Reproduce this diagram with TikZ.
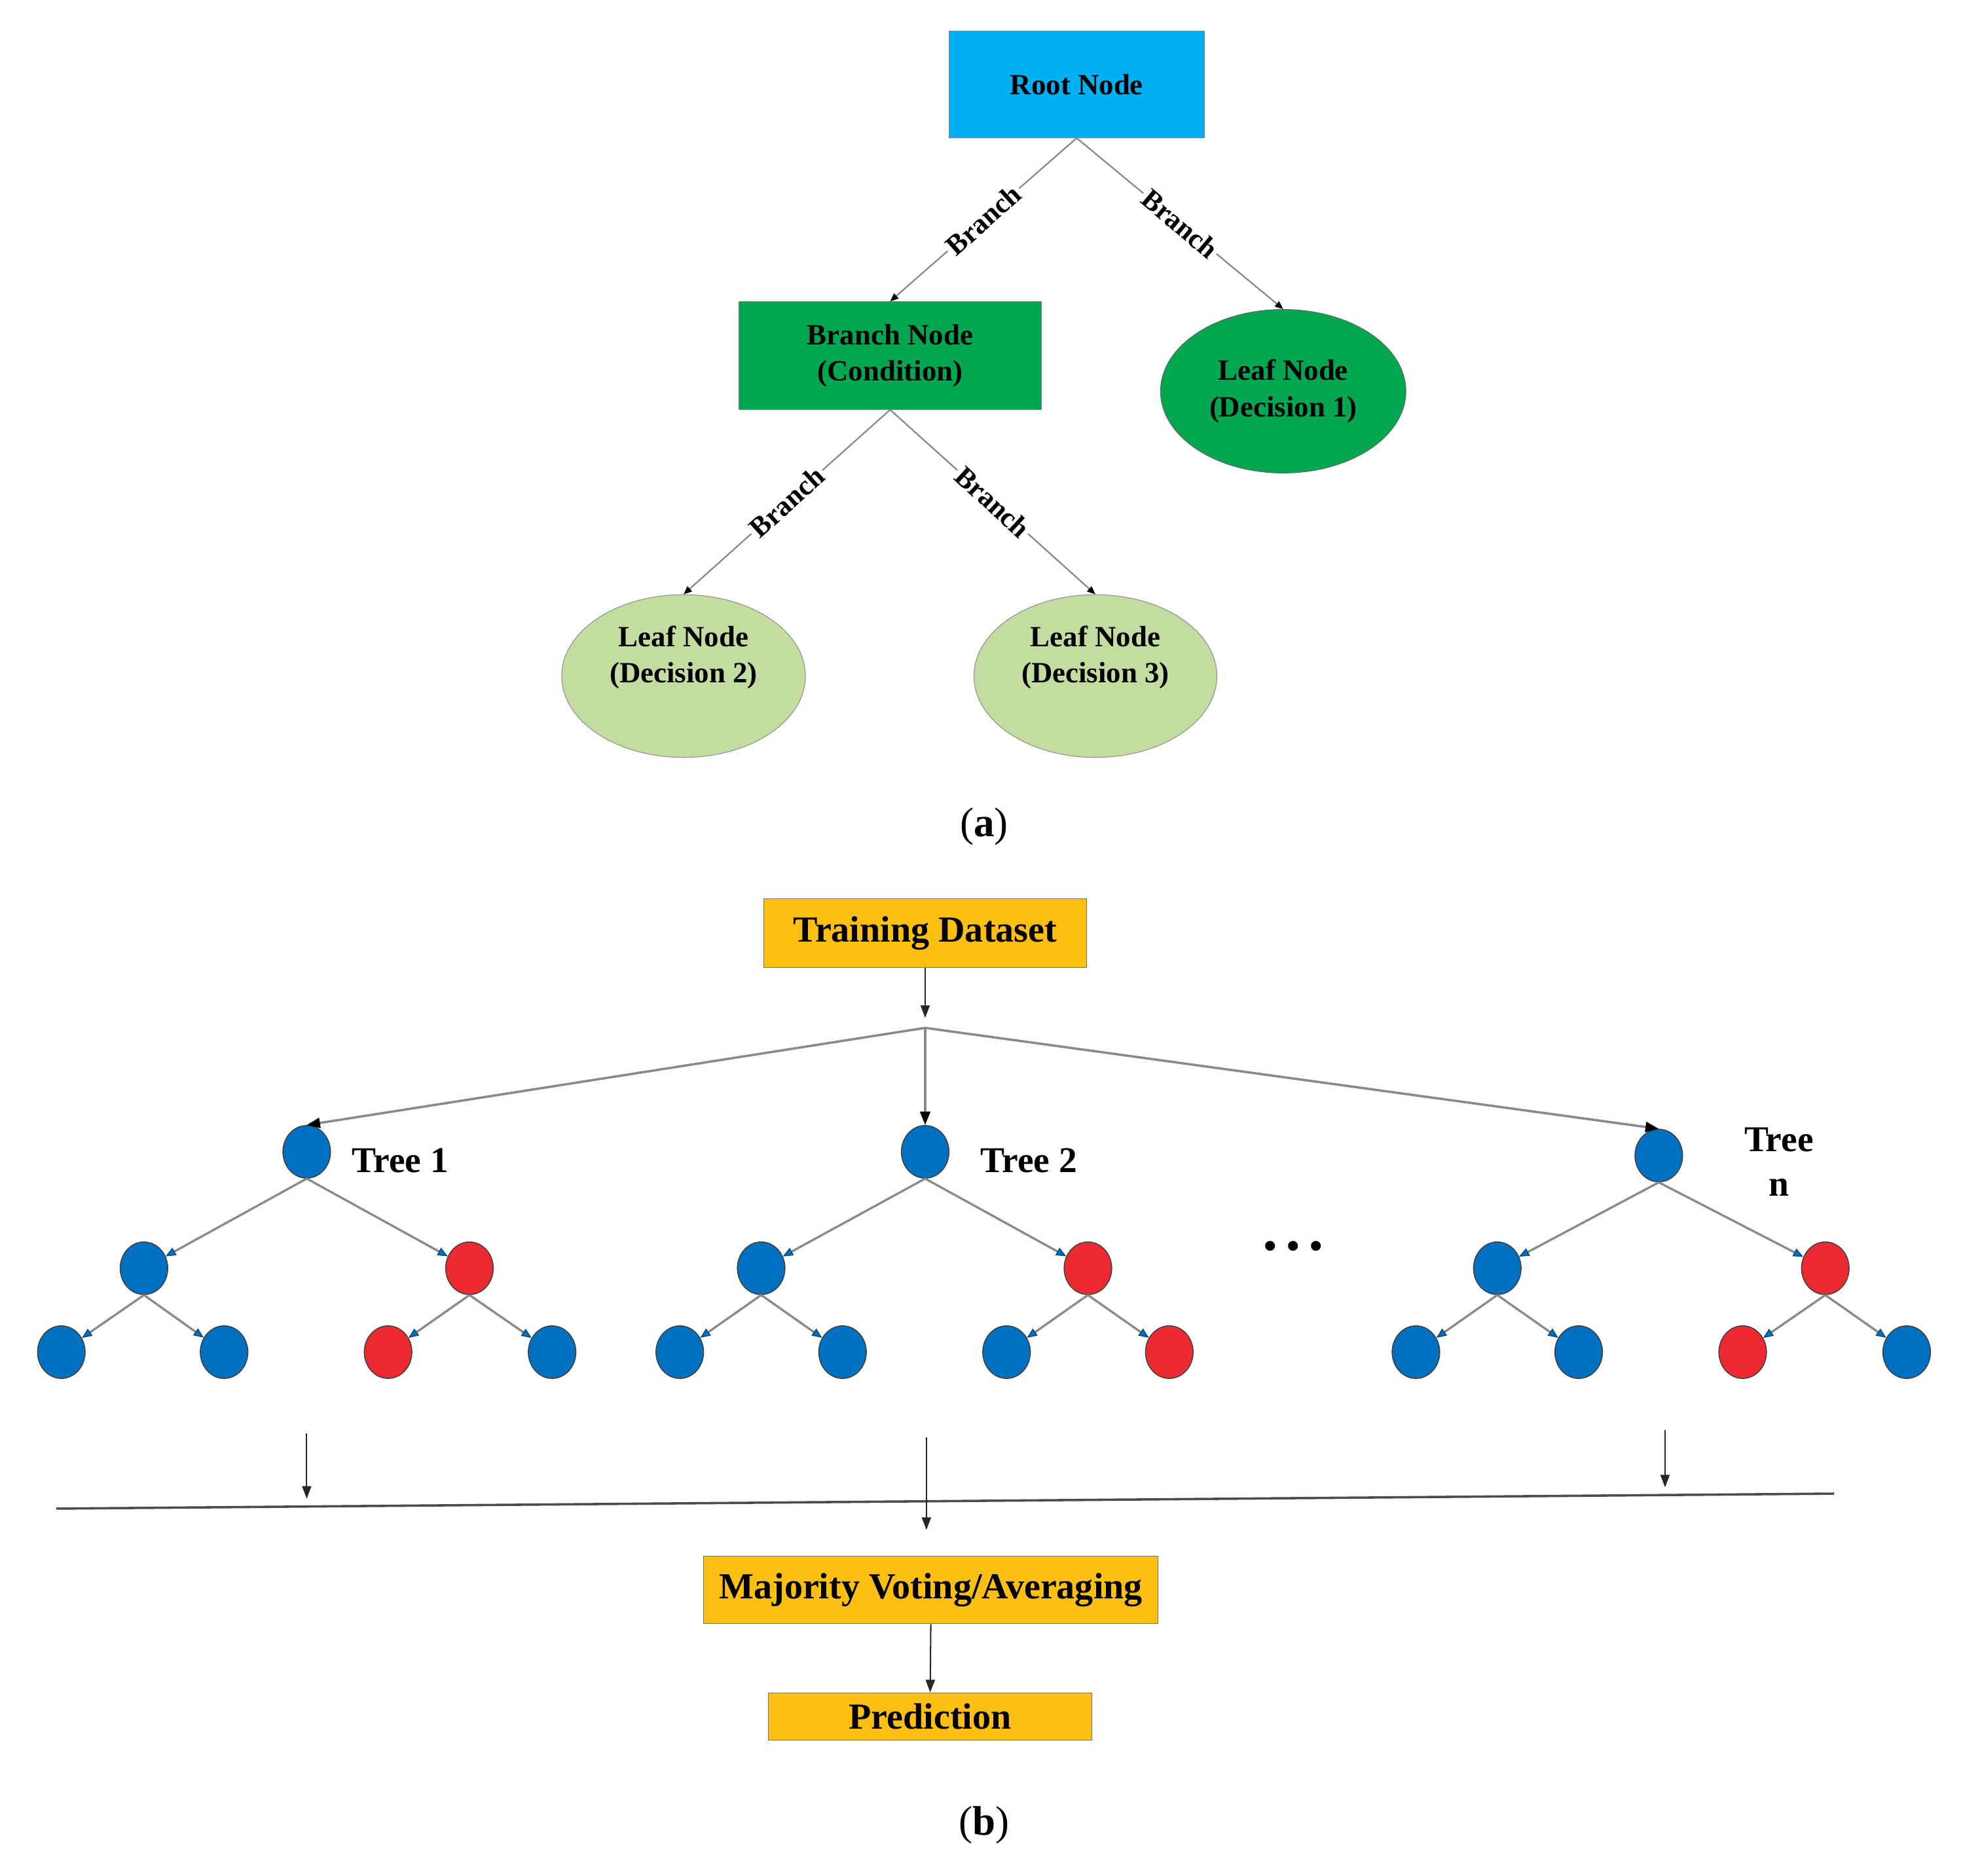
\documentclass[tikz,border=0pt]{standalone}
\usepackage{fontspec}
\setmainfont{Liberation Serif}
\usetikzlibrary{arrows.meta,shapes.geometric}

\definecolor{rootblue}{HTML}{00B0F0}
\definecolor{branchgreen}{HTML}{00A650}
\definecolor{leafgreen}{HTML}{C3DCA0}
\definecolor{boxgold}{HTML}{FDBF12}
\definecolor{nodeblue}{HTML}{0070C0}
\definecolor{nodered}{HTML}{ED2A32}
\definecolor{edgegray}{HTML}{8A8A8A}

\tikzset{
  fa/.style={font=\fontsize{17.6}{21.75}\selectfont\bfseries, align=center},
  rootbox/.style={fa, draw=gray, fill=rootblue, minimum width=153pt, minimum height=63.75pt, inner sep=0pt},
  branchbox/.style={fa, draw=gray, fill=branchgreen, minimum width=181.5pt, minimum height=64.5pt, inner sep=0pt},
  leafdark/.style={fa, ellipse, draw=black!60, fill=branchgreen, minimum width=147pt, minimum height=98pt, inner sep=0pt},
  leaflight/.style={ellipse, draw=black!45, fill=leafgreen, minimum width=146pt, minimum height=97.5pt, inner sep=0pt},
  leaftxt/.style={fa, inner sep=0pt},
  brlabel/.style={midway, fill=white, text=black, inner sep=1.5pt, font=\fontsize{17}{17}\selectfont\bfseries},
  edgea/.style={edgegray, line width=0.9pt, -{Triangle[length=5pt,width=4pt,color=black]}},
  goldbox/.style={draw=black!55, fill=boxgold, font=\fontsize{22}{26}\selectfont\bfseries, minimum width=193.5pt, inner sep=0pt},
  bnode/.style={ellipse, draw=black!75, line width=0.6pt, fill=nodeblue, minimum width=28.5pt, minimum height=31.5pt, inner sep=0pt},
  rnode/.style={bnode, fill=nodered},
  treeedge/.style={edgegray, line width=1.3pt, -{Triangle[length=6pt,width=5pt,line width=0.5pt,color=nodeblue!60!black,fill=nodeblue]}},
  splitarrow/.style={edgegray, line width=1.4pt, -{Triangle[length=8pt,width=6pt,color=black]}},
  blackarrow/.style={black!85, line width=0.8pt, -{Triangle[length=7.5pt,width=5.5pt]}},
  treelabel/.style={font=\fontsize{21.75}{27}\selectfont\bfseries, inner sep=0pt},
  caption/.style={font=\fontsize{24.75}{30}\selectfont}
}

\begin{document}
\begin{tikzpicture}[x=0.75pt,y=0.75pt,yscale=-1,xscale=1]
        \useasboundingbox (0,0) rectangle (1568,1498.4);
        %Shape: Rectangle
        \node[rootbox] (root) at (860,67.5) {Root Node};
        \node[branchbox] (branch) at (711,284) {Branch Node\\(Condition)};
        %Shape: Ellipse
        \node[leafdark] (leaf1) at (1025,312.5) {Leaf Node\\(Decision 1)};
        \node[leaflight] (leaf2) at (546,540) {};
        \node[leaftxt] (leaf2txt) at (546,525) {Leaf Node\\(Decision 2)};
        \node[leaflight, minimum width=145.5pt] (leaf3) at (875,540) {};
        \node[leaftxt] (leaf3txt) at (875,525) {Leaf Node\\(Decision 3)};
        %Straight Lines
        \draw[edgea] (root.south) -- node[brlabel, rotate=41.7] {Branch} (branch.north);
        \draw[edgea] (root.south) -- node[brlabel, rotate=-40.2] {Branch} (leaf1.north);
        \draw[edgea] (branch.south) -- node[brlabel, rotate=42] {Branch} (leaf2.north);
        \draw[edgea] (branch.south) -- node[brlabel, rotate=-42.6] {Branch} (leaf3.north);
        \node[caption] (capa) at (786,660) {(\textbf{a})};

        %Shape: Rectangle
        \node[goldbox, minimum height=41.25pt] (td) at (739,745.5) {Training Dataset};
        \coordinate (splitin) at (739,813);
        \coordinate (split) at (739,821);
        \draw[blackarrow] (td.south) -- (splitin);
        %Tree 1
        \node[bnode] (t1) at (245,920) {};
        \node[bnode] (t1l) at (115,1013) {};
        \node[rnode] (t1r) at (375,1013) {};
        \node[bnode] (t1ll) at (49,1080) {};
        \node[bnode] (t1lr) at (179,1080) {};
        \node[rnode] (t1rl) at (310,1080) {};
        \node[bnode] (t1rr) at (441,1080) {};
        \node[treelabel, anchor=west] (lab1) at (281,927) {Tree 1};
        %Tree 2
        \node[bnode] (t2) at (739,920) {};
        \node[bnode] (t2l) at (608,1013) {};
        \node[rnode] (t2r) at (869,1013) {};
        \node[bnode] (t2ll) at (543,1080) {};
        \node[bnode] (t2lr) at (673,1080) {};
        \node[bnode] (t2rl) at (804,1080) {};
        \node[rnode] (t2rr) at (934,1080) {};
        \node[treelabel, anchor=west] (lab2) at (783,927) {Tree 2};
        %Tree n
        \node[bnode] (tn) at (1325,923) {};
        \node[bnode] (tnl) at (1196,1013) {};
        \node[rnode] (tnr) at (1458,1013) {};
        \node[bnode] (tnll) at (1131,1080) {};
        \node[bnode] (tnlr) at (1261,1080) {};
        \node[rnode] (tnrl) at (1392,1080) {};
        \node[bnode] (tnrr) at (1523,1080) {};
        \node[treelabel, align=center] (labn) at (1421,928) {Tree\\n};
        \node[treelabel] (dots) at (1033,998) {•\hspace{6pt}•\hspace{6pt}•};
        %Straight Lines
        \draw[splitarrow] (split) -- (t1.north);
        \draw[splitarrow] (split) -- (t2);
        \draw[splitarrow] (split) -- (tn.north);
        \draw[treeedge] (t1.south) -- (t1l);
        \draw[treeedge] (t1.south) -- (t1r);
        \draw[treeedge] (t1l.south) -- (t1ll);
        \draw[treeedge] (t1l.south) -- (t1lr);
        \draw[treeedge] (t1r.south) -- (t1rl);
        \draw[treeedge] (t1r.south) -- (t1rr);
        \draw[treeedge] (t2.south) -- (t2l);
        \draw[treeedge] (t2.south) -- (t2r);
        \draw[treeedge] (t2l.south) -- (t2ll);
        \draw[treeedge] (t2l.south) -- (t2lr);
        \draw[treeedge] (t2r.south) -- (t2rl);
        \draw[treeedge] (t2r.south) -- (t2rr);
        \draw[treeedge] (tn.south) -- (tnl);
        \draw[treeedge] (tn.south) -- (tnr);
        \draw[treeedge] (tnl.south) -- (tnll);
        \draw[treeedge] (tnl.south) -- (tnlr);
        \draw[treeedge] (tnr.south) -- (tnrl);
        \draw[treeedge] (tnr.south) -- (tnrr);

        %Straight Lines
        \coordinate (o1s) at (245,1145);
        \coordinate (o1e) at (245,1197);
        \coordinate (o2s) at (740,1148);
        \coordinate (o2e) at (740,1222);
        \coordinate (ons) at (1330,1142);
        \coordinate (one) at (1330,1188);
        \coordinate (vl) at (45,1205);
        \coordinate (vr) at (1465,1193);
        \draw[black!70, line width=1.4pt] (vl) -- (vr);
        \draw[blackarrow] (o1s) -- (o1e);
        \draw[blackarrow] (o2s) -- (o2e);
        \draw[blackarrow] (ons) -- (one);
        %Shape: Rectangle
        \node[goldbox, minimum width=272.25pt, minimum height=40.5pt] (mv) at (743.5,1270) {Majority Voting/Averaging};
        \node[goldbox, minimum height=28.5pt] (pred) at (743,1371) {Prediction};
        \draw[blackarrow] (mv.south) -- (pred.north);
        \node[caption] (capb) at (786,1458) {(\textbf{b})};
    \end{tikzpicture}
\end{document}
